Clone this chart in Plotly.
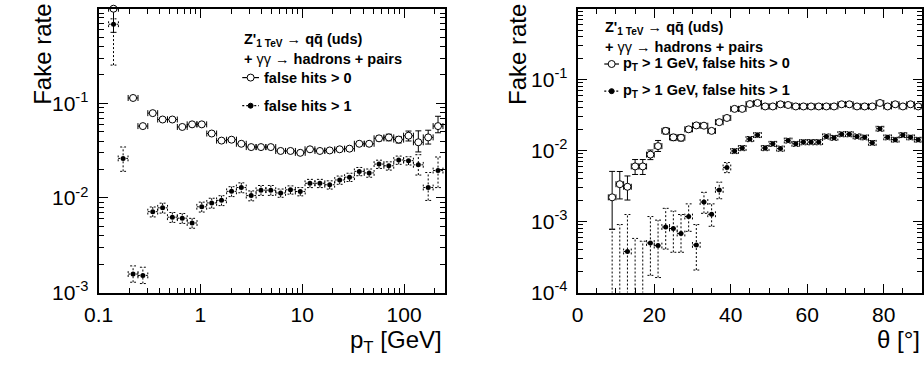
import math
import plotly.graph_objects as go

W, H = 924, 365
FONT = "Liberation Sans, Arial, Helvetica, sans-serif"

# ---------------- data: left panel (fake rate vs pT) ----------------
PT_GEV = [0.140, 0.174, 0.218, 0.272, 0.340, 0.425, 0.530, 0.663, 0.828, 1.03,
          1.29, 1.61, 2.02, 2.52, 3.15, 3.93, 4.91, 6.13, 7.66, 9.56,
          11.9, 14.9, 18.6, 23.3, 29.1, 36.3, 45.4, 56.7, 70.8, 88.5,
          110.5, 138.0, 172.5, 215.4]
PT_BIN_HALF_LOG10 = 0.0483

FAKE_PT_GT0 = [1.0, None, 0.114, 0.0575, 0.0788, 0.0675, 0.0675, 0.0563, 0.060, 0.060,
               0.048, 0.0404, 0.0413, 0.0374, 0.0345, 0.0345, 0.0345, 0.0314, 0.0314, 0.0300,
               0.0327, 0.0314, 0.0318, 0.0327, 0.0332, 0.0374, 0.0374, 0.0427, 0.0437, 0.0414,
               0.0455, 0.0388, 0.0437, 0.0575]
FAKE_PT_GT0_RELUP = [0.0, 0.0, 0.03, 0.03, 0.03, 0.03, 0.03, 0.03, 0.03, 0.03,
                     0.03, 0.03, 0.03, 0.03, 0.03, 0.03, 0.03, 0.03, 0.03, 0.03,
                     0.03, 0.03, 0.03, 0.03, 0.03, 0.04, 0.05, 0.06, 0.08, 0.08,
                     0.12, 0.32, 0.19, 0.27]
FAKE_PT_GT0_RELDN = [0.437, 0.0, 0.03, 0.03, 0.03, 0.03, 0.03, 0.03, 0.03, 0.03,
                     0.03, 0.03, 0.03, 0.03, 0.03, 0.03, 0.03, 0.03, 0.03, 0.03,
                     0.03, 0.03, 0.03, 0.03, 0.03, 0.04, 0.05, 0.06, 0.08, 0.08,
                     0.12, 0.21, 0.15, 0.15]

FAKE_PT_GT1 = [0.686, 0.0262, 0.00157, 0.00152, 0.00717, 0.00787, 0.00627, 0.00612, 0.00544, 0.00807,
               0.00887, 0.00944, 0.01175, 0.0129, 0.0106, 0.0121, 0.0121, 0.0113, 0.0122, 0.0117,
               0.0143, 0.0143, 0.0138, 0.0155, 0.0166, 0.0191, 0.0184, 0.0228, 0.0219, 0.0252,
               0.0248, 0.0224, 0.0129, 0.0195]
FAKE_PT_GT1_RELUP = [0.14, 0.32, 0.22, 0.22, 0.12, 0.12, 0.12, 0.12, 0.12, 0.12,
                     0.12, 0.12, 0.12, 0.12, 0.12, 0.12, 0.12, 0.10, 0.10, 0.10,
                     0.10, 0.10, 0.10, 0.10, 0.10, 0.10, 0.10, 0.10, 0.10, 0.10,
                     0.10, 0.28, 0.44, 0.39]
FAKE_PT_GT1_RELDN = [0.63, 0.27, 0.18, 0.18, 0.12, 0.12, 0.12, 0.12, 0.12, 0.12,
                     0.12, 0.12, 0.12, 0.12, 0.12, 0.12, 0.12, 0.10, 0.10, 0.10,
                     0.10, 0.10, 0.10, 0.10, 0.10, 0.10, 0.10, 0.10, 0.10, 0.10,
                     0.10, 0.22, 0.27, 0.34]

# ---------------- data: right panel (fake rate vs theta) ----------------
THETA_DEG = [1, 3, 5, 7, 9, 11, 13, 15, 17, 19, 21, 23, 25, 27, 29, 31, 33, 35, 37, 39,
             41, 43, 45, 47, 49, 51, 53, 55, 57, 59, 61, 63, 65, 67, 69, 71, 73, 75, 77, 79,
             81, 83, 85, 87, 89]
THETA_BIN_HALF = 1.0

FAKE_TH_GT0 = [None, None, None, None, 0.0022, 0.00337, 0.0031, 0.0060, 0.0060, 0.0088,
               0.0116, 0.0190, 0.0154, 0.0152, 0.0200, 0.0227, 0.0225, 0.0190, 0.0252, 0.0289,
               0.0388, 0.0388, 0.0454, 0.0470, 0.0420, 0.0420, 0.0450, 0.0440, 0.0420, 0.0420,
               0.0420, 0.0420, 0.0420, 0.0420, 0.0450, 0.0450, 0.0420, 0.0420, 0.0420, 0.0470,
               0.0420, 0.0450, 0.0420, 0.0450, 0.0420]
FAKE_TH_GT0_RELUP = [0, 0, 0, 0, 1.32, 0.51, 0.42, 0.25, 0.25, 0.16,
                     0.20, 0.10, 0.10, 0.10, 0.08, 0.06, 0.06, 0.06, 0.06, 0.06,
                     0.04, 0.04, 0.04, 0.04, 0.04, 0.04, 0.04, 0.04, 0.04, 0.04,
                     0.04, 0.04, 0.04, 0.04, 0.04, 0.04, 0.04, 0.04, 0.04, 0.04,
                     0.04, 0.04, 0.04, 0.04, 0.04]
FAKE_TH_GT0_RELDN = [0, 0, 0, 0, 0.645, 0.38, 0.35, 0.23, 0.23, 0.15,
                     0.16, 0.10, 0.10, 0.10, 0.08, 0.06, 0.06, 0.06, 0.06, 0.06,
                     0.04, 0.04, 0.04, 0.04, 0.04, 0.04, 0.04, 0.04, 0.04, 0.04,
                     0.04, 0.04, 0.04, 0.04, 0.04, 0.04, 0.04, 0.04, 0.04, 0.04,
                     0.04, 0.04, 0.04, 0.04, 0.04]

FAKE_TH_GT1 = [None, None, None, None, None, None, 0.00038, None, None, 0.00050,
               0.00046, 0.00084, 0.00080, 0.00068, 0.00118, 0.00047, 0.00189, 0.00127, 0.0028, 0.0058,
               0.0099, 0.0109, 0.0146, 0.0166, 0.0109, 0.0125, 0.0107, 0.0139, 0.0125, 0.0132,
               0.0132, 0.0132, 0.0159, 0.0152, 0.0171, 0.0171, 0.0159, 0.0154, 0.0129, 0.0204,
               0.0154, 0.0143, 0.0166, 0.0154, 0.0143]
FAKE_TH_GT1_LO = [None, None, None, None, 0.0, 0.0, 0.0, 0.0, 0.0, 0.000175,
                  0.000163, 0.00041, 0.00037, 0.00037, 0.00073, 0.000208, 0.00131, 0.00086, 0.0021, 0.0049,
                  0.0091, 0.0100, 0.0134, 0.0153, 0.0100, 0.0115, 0.0098, 0.0128, 0.0115, 0.0121,
                  0.0121, 0.0121, 0.0146, 0.0140, 0.0157, 0.0157, 0.0146, 0.0142, 0.0119, 0.0188,
                  0.0142, 0.0132, 0.0153, 0.0142, 0.0132]
FAKE_TH_GT1_HI = [None, None, None, None, 0.00078, 0.00091, 0.00126, 0.00058, 0.00053, 0.00118,
                  0.00105, 0.00154, 0.00141, 0.00126, 0.00178, 0.00091, 0.00259, 0.00178, 0.0036, 0.0068,
                  0.0107, 0.0118, 0.0158, 0.0179, 0.0118, 0.0135, 0.0116, 0.0150, 0.0135, 0.0143,
                  0.0143, 0.0143, 0.0172, 0.0164, 0.0185, 0.0185, 0.0172, 0.0166, 0.0139, 0.0220,
                  0.0166, 0.0154, 0.0179, 0.0166, 0.0154]

# ---------------- geometry (pixels of the 924x365 page) ----------------
L_X0, L_X1 = 85, 436.7
R_X0, R_X1 = 572, 922
Y_TOP, Y_BOT = 9, 301.7
PT_RANGE = [-1, math.log10(250)]
TH_RANGE = [0, 90]
L_YRANGE = [-3, 0]
R_YRANGE = [-4, 0]
CAP = 3  # px half-width of error-bar caps
FLOOR = 1e-7

l_px_per_dec_x = (L_X1 - L_X0) / (PT_RANGE[1] - PT_RANGE[0])
r_px_per_deg = (R_X1 - R_X0) / (TH_RANGE[1] - TH_RANGE[0])
l_px_per_dec_y = (Y_BOT - Y_TOP) / (L_YRANGE[1] - L_YRANGE[0])
r_px_per_dec_y = (Y_BOT - Y_TOP) / (R_YRANGE[1] - R_YRANGE[0])


def px(x):
    return x / W


def py(y):
    return 1 - y / H


def dotted_bars(xs, ys, lo, hi, xlo, xhi, xcap, ycap):
    """Build dotted error-bar segments (with caps) from data arrays."""
    sx, sy = [], []
    for x, y, l, h, a, b in zip(xs, ys, lo, hi, xlo, xhi):
        if h is None:
            continue
        lv = l if (l is not None and l > 0) else FLOOR
        sx += [x, x, None]
        sy += [lv, h, None]
        c0, c1 = xcap(x)
        sx += [c0, c1, None]
        sy += [h, h, None]
        if l is not None and l > 0:
            sx += [c0, c1, None]
            sy += [l, l, None]
        if y is not None:
            sx += [a, b, None]
            sy += [y, y, None]
            d0, d1 = ycap(y)
            sx += [a, a, None, b, b, None]
            sy += [d0, d1, None, d0, d1, None]
    return sx, sy


fig = go.Figure()

# ---- left panel ----
pt_lo = [x / 10 ** PT_BIN_HALF_LOG10 for x in PT_GEV]
pt_hi = [x * 10 ** PT_BIN_HALF_LOG10 for x in PT_GEV]

fig.add_trace(go.Scatter(
    x=PT_GEV, y=FAKE_PT_GT0, mode="markers", xaxis="x", yaxis="y", cliponaxis=False,
    marker=dict(symbol="circle", size=7, color="white", line=dict(color="black", width=1)),
    error_y=dict(type="data", symmetric=False,
                 array=[(v or 0) * r for v, r in zip(FAKE_PT_GT0, FAKE_PT_GT0_RELUP)],
                 arrayminus=[(v or 0) * r for v, r in zip(FAKE_PT_GT0, FAKE_PT_GT0_RELDN)],
                 color="black", thickness=1, width=CAP),
    error_x=dict(type="data", symmetric=False,
                 array=[h - x for x, h in zip(PT_GEV, pt_hi)],
                 arrayminus=[x - l for x, l in zip(PT_GEV, pt_lo)],
                 color="black", thickness=1, width=CAP),
    showlegend=False, hoverinfo="skip"))

gt1_lo = [v * (1 - r) for v, r in zip(FAKE_PT_GT1, FAKE_PT_GT1_RELDN)]
gt1_hi = [v * (1 + r) for v, r in zip(FAKE_PT_GT1, FAKE_PT_GT1_RELUP)]
sx, sy = dotted_bars(
    PT_GEV, FAKE_PT_GT1, gt1_lo, gt1_hi, pt_lo, pt_hi,
    lambda x: (x / 10 ** (CAP / l_px_per_dec_x), x * 10 ** (CAP / l_px_per_dec_x)),
    lambda y: (y / 10 ** (CAP / l_px_per_dec_y), y * 10 ** (CAP / l_px_per_dec_y)))
fig.add_trace(go.Scatter(x=sx, y=sy, mode="lines", xaxis="x", yaxis="y",
                         line=dict(color="black", width=1, dash="2px,2px"),
                         showlegend=False, hoverinfo="skip"))
fig.add_trace(go.Scatter(x=PT_GEV, y=FAKE_PT_GT1, mode="markers", xaxis="x", yaxis="y",
                         marker=dict(symbol="circle", size=5, color="black"),
                         showlegend=False, hoverinfo="skip"))

# ---- right panel ----
th_lo = [t - THETA_BIN_HALF for t in THETA_DEG]
th_hi = [t + THETA_BIN_HALF for t in THETA_DEG]

fig.add_trace(go.Scatter(
    x=THETA_DEG, y=FAKE_TH_GT0, mode="markers", xaxis="x2", yaxis="y2",
    marker=dict(symbol="circle", size=7, color="white", line=dict(color="black", width=1)),
    error_y=dict(type="data", symmetric=False,
                 array=[(v or 0) * r for v, r in zip(FAKE_TH_GT0, FAKE_TH_GT0_RELUP)],
                 arrayminus=[(v or 0) * r for v, r in zip(FAKE_TH_GT0, FAKE_TH_GT0_RELDN)],
                 color="black", thickness=1, width=CAP),
    error_x=dict(type="data", symmetric=False,
                 array=[h - t for t, h in zip(THETA_DEG, th_hi)],
                 arrayminus=[t - l for t, l in zip(THETA_DEG, th_lo)],
                 color="black", thickness=1, width=CAP),
    showlegend=False, hoverinfo="skip"))

sx, sy = dotted_bars(
    THETA_DEG, FAKE_TH_GT1, FAKE_TH_GT1_LO, FAKE_TH_GT1_HI, th_lo, th_hi,
    lambda x: (x - CAP / r_px_per_deg, x + CAP / r_px_per_deg),
    lambda y: (y / 10 ** (CAP / r_px_per_dec_y), y * 10 ** (CAP / r_px_per_dec_y)))
fig.add_trace(go.Scatter(x=sx, y=sy, mode="lines", xaxis="x2", yaxis="y2",
                         line=dict(color="black", width=1, dash="2px,2px"),
                         showlegend=False, hoverinfo="skip"))
fig.add_trace(go.Scatter(x=THETA_DEG, y=FAKE_TH_GT1, mode="markers", xaxis="x2", yaxis="y2",
                         marker=dict(symbol="circle", size=5, color="black"),
                         showlegend=False, hoverinfo="skip"))

# ---- axes ----
tickfont = dict(family=FONT, size=21, color="black")
common = dict(showline=True, linecolor="black", linewidth=2, mirror="ticks",
              ticks="inside", tickcolor="black", tickwidth=1, ticklen=9,
              showgrid=False, zeroline=False, tickfont=tickfont)
ydom = [1 - Y_BOT / H, 1 - Y_TOP / H]

pt_minor = [0.2, 0.3, 0.4, 0.5, 0.6, 0.7, 0.8, 0.9, 2, 3, 4, 5, 6, 7, 8, 9,
            20, 30, 40, 50, 60, 70, 80, 90, 200]
y_minor3 = [m * 10 ** e for e in (-3, -2, -1) for m in range(2, 10)]
y_minor4 = [m * 10 ** e for e in (-4, -3, -2, -1) for m in range(2, 10)]
minor_style = dict(ticks="inside", ticklen=5, tickcolor="black", tickwidth=1, showgrid=False)

fig.update_layout(
    width=W, height=H, margin=dict(l=0, r=0, t=0, b=0),
    paper_bgcolor="white", plot_bgcolor="white",
    xaxis=dict(common, type="log", domain=[L_X0 / W, L_X1 / W], range=PT_RANGE, anchor="y",
               tickmode="array", tickvals=[0.1, 1, 10, 100], ticktext=["0.1", "1", "10", "100"],
               minor=dict(minor_style, tickmode="array", tickvals=pt_minor),
               ticklabelstandoff=2),
    yaxis=dict(common, type="log", domain=ydom, range=L_YRANGE, anchor="x",
               tickmode="array", tickvals=[1e-3, 1e-2, 1e-1, 1],
               ticktext=["10<sup>-3</sup>", "10<sup>-2</sup>", "10<sup>-1</sup>", "1"],
               minor=dict(minor_style, tickmode="array", tickvals=y_minor3),
               ticklabelstandoff=4),
    xaxis2=dict(common, type="linear", domain=[R_X0 / W, R_X1 / W], range=TH_RANGE, anchor="y2",
                tickmode="array", tickvals=[0, 20, 40, 60, 80], ticktext=["0", "20", "40", "60", "80"],
                minor=dict(minor_style, tickmode="array",
                           tickvals=[5, 10, 15, 25, 30, 35, 45, 50, 55, 65, 70, 75, 85]),
                ticklabelstandoff=2),
    yaxis2=dict(common, type="log", domain=ydom, range=R_YRANGE, anchor="x2",
                tickmode="array", tickvals=[1e-4, 1e-3, 1e-2, 1e-1, 1],
                ticktext=["10<sup>-4</sup>", "10<sup>-3</sup>", "10<sup>-2</sup>", "10<sup>-1</sup>", "1"],
                minor=dict(minor_style, tickmode="array", tickvals=y_minor4),
                ticklabelstandoff=4),
)

# ---- titles ----
title_font = dict(family=FONT, size=24, color="black")
ann = []
ann.append(dict(text="Fake rate", x=px(28), y=py(56), textangle=-90, font=title_font))
ann.append(dict(text="Fake rate", x=px(511), y=py(56), textangle=-90, font=title_font))
ann.append(dict(text="p<sub>T</sub> [GeV]", x=px(436), y=py(334), xanchor="right", yanchor="top",
                font=title_font))
ann.append(dict(text="θ [°]", x=px(922), y=py(334), xanchor="right", yanchor="top", font=title_font))

# ---- in-plot labels ----
lab_font = dict(family=FONT, size=14.5, color="black", weight="bold")
nb = "<span style='font-weight:normal'>"
line1 = "Z'<sub>1 TeV</sub> " + nb + "→</span> qq̄ (uds)"
line2 = "+ " + nb + "γγ → </span>hadrons + pairs"

ann.append(dict(text=line1, x=px(231), y=py(41), xanchor="left", font=lab_font))
ann.append(dict(text=line2, x=px(231), y=py(61), xanchor="left", font=lab_font))
ann.append(dict(text="false hits > 0", x=px(251), y=py(80), xanchor="left", font=lab_font))
ann.append(dict(text="false hits > 1", x=px(251), y=py(109), xanchor="left", font=lab_font))

ann.append(dict(text=line1, x=px(598), y=py(29), xanchor="left", font=lab_font))
ann.append(dict(text=line2, x=px(598), y=py(48), xanchor="left", font=lab_font))
ann.append(dict(text="p<sub>T</sub> > 1 GeV, false hits > 0", x=px(616), y=py(66), xanchor="left", font=lab_font))
ann.append(dict(text="p<sub>T</sub> > 1 GeV, false hits > 1", x=px(616), y=py(94), xanchor="left", font=lab_font))

for a in ann:
    a.setdefault("xref", "paper")
    a.setdefault("yref", "paper")
    a.setdefault("showarrow", False)
    a.setdefault("yanchor", "middle")
    a.setdefault("xanchor", "center")
fig.update_layout(annotations=ann)

# ---- legend samples ----
shapes = []


def sample(x0, x1, y, filled):
    shapes.append(dict(type="line", xref="paper", yref="paper", x0=px(x0), x1=px(x1), y0=py(y), y1=py(y),
                       line=dict(color="black", width=1.2, dash="2px,2px" if filled else "solid")))
    r = 2.5 if filled else 3.5
    shapes.append(dict(type="circle", xref="paper", yref="paper", xsizemode="pixel", ysizemode="pixel",
                       xanchor=px((x0 + x1) / 2), yanchor=py(y), x0=-r, x1=r, y0=-r, y1=r,
                       fillcolor="black" if filled else "white", line=dict(color="black", width=1)))


sample(231, 248, 80, False)
sample(231, 248, 109, True)
sample(599, 614, 66, False)
sample(599, 614, 94, True)
fig.update_layout(shapes=shapes)

fig.write_html("out.html")
